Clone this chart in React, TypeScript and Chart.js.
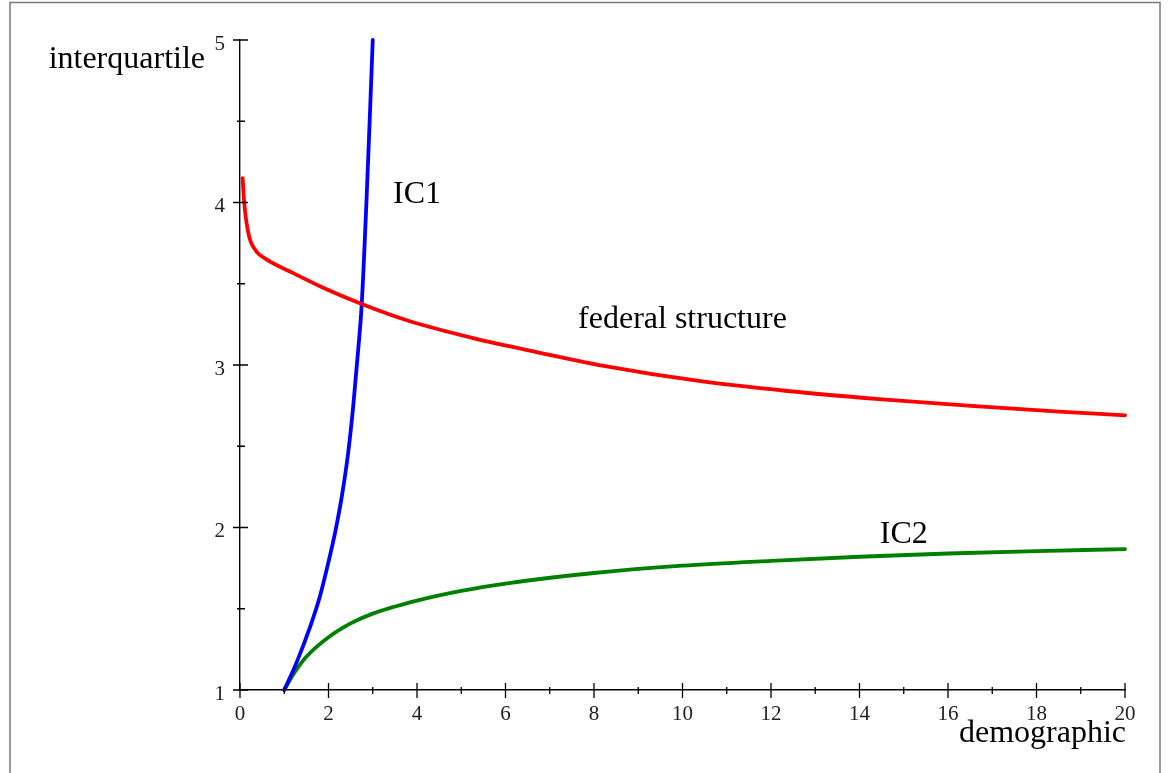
import React, { useEffect, useRef } from 'react';
import { Chart, registerables } from 'chart.js';

Chart.register(...registerables);

// Axis ranges and ticks
const xRange = [0, 20];
const yRange = [1, 5];
const xMajorTicks = [0, 2, 4, 6, 8, 10, 12, 14, 16, 18, 20];
const xMinorTicks = [1, 3, 5, 7, 9, 11, 13, 15, 17, 19];
const yMajorTicks = [1, 2, 3, 4, 5];
const yMinorTicks = [1.5, 2.5, 3.5, 4.5];

// Series: federal structure (red)
const fedX = [0.06, 0.09, 0.19, 0.34, 0.6, 1.13, 1.88, 2.75, 3.77, 5.27, 6.78, 8.22, 10.29, 12.37, 14.44, 16.52, 18.6, 20];
const fedY = [4.15, 4.015, 3.81, 3.71, 3.65, 3.575, 3.475, 3.375, 3.275, 3.165, 3.075, 2.995, 2.905, 2.84, 2.79, 2.748, 2.712, 2.69];

// Series: IC1 (blue)
const ic1X = [1.0, 1.28, 1.58, 1.81, 2.01, 2.15, 2.3, 2.44, 2.56, 2.66, 2.75, 2.86, 2.93, 3.0];
const ic1Y = [1.0, 1.17, 1.385, 1.58, 1.8, 1.97, 2.19, 2.45, 2.75, 3.06, 3.37, 4.02, 4.5, 5.0];

// Series: IC2 (green)
const ic2X = [1.0, 1.25, 1.5, 2.0, 2.5, 3.0, 4.0, 5.0, 6.0, 8.0, 10.0, 12.0, 14.0, 16.0, 18.0, 20.0];
const ic2Y = [1.0, 1.115, 1.205, 1.325, 1.41, 1.47, 1.55, 1.61, 1.655, 1.72, 1.765, 1.795, 1.82, 1.84, 1.855, 1.867];

// Curve annotations (text, data x, data y of baseline-left)
const curveLabels = [
  { text: 'IC1', x: 3.46, y: 4.0 },
  { text: 'federal structure', x: 7.64, y: 3.23 },
  { text: 'IC2', x: 14.46, y: 1.905 },
];

const xTitle = 'demographic';
const yTitle = 'interquartile';

const SERIF = "'Liberation Serif', 'Times New Roman', Times, serif";

const toPts = (xs: number[], ys: number[]) => xs.map((x, i) => ({ x, y: ys[i] }));

const decorPlugin = {
  id: 'decor',
  beforeDraw(chart: any) {
    const ctx = chart.ctx;
    ctx.save();
    ctx.fillStyle = '#ffffff';
    ctx.fillRect(0, 0, chart.width, chart.height);
    ctx.strokeStyle = '#7a7a7a';
    ctx.lineWidth = 1.5;
    ctx.strokeRect(10, 2.5, 1150, 800);
    ctx.restore();
  },
  afterDraw(chart: any) {
    const ctx = chart.ctx;
    const xs = chart.scales.x;
    const ys = chart.scales.y;
    const axisY = ys.getPixelForValue(yRange[0]);
    const axisX = xs.getPixelForValue(xRange[0]);
    ctx.save();
    ctx.strokeStyle = '#000';
    ctx.lineWidth = 1.3;
    ctx.beginPath();
    xMajorTicks.forEach((v) => {
      const px = xs.getPixelForValue(v);
      ctx.moveTo(px, axisY - 7);
      ctx.lineTo(px, axisY + 8);
    });
    xMinorTicks.forEach((v) => {
      const px = xs.getPixelForValue(v);
      ctx.moveTo(px, axisY - 3);
      ctx.lineTo(px, axisY + 4);
    });
    yMajorTicks.forEach((v) => {
      const py = ys.getPixelForValue(v);
      ctx.moveTo(axisX - 7, py);
      ctx.lineTo(axisX + 8, py);
    });
    yMinorTicks.forEach((v) => {
      const py = ys.getPixelForValue(v);
      ctx.moveTo(axisX - 3, py);
      ctx.lineTo(axisX + 5, py);
    });
    ctx.stroke();

    ctx.fillStyle = '#000';
    ctx.font = `32px ${SERIF}`;
    ctx.textBaseline = 'alphabetic';
    ctx.textAlign = 'left';
    curveLabels.forEach((l) => {
      ctx.fillText(l.text, xs.getPixelForValue(l.x), ys.getPixelForValue(l.y));
    });
    // axis titles
    ctx.textAlign = 'right';
    ctx.fillText(yTitle, axisX - 35, ys.getPixelForValue(yRange[1]) + 28);
    ctx.fillText(xTitle, xs.getPixelForValue(xRange[1]) + 1, axisY + 52);
    ctx.restore();
  },
};

export default function App() {
  const ref = useRef<HTMLCanvasElement | null>(null);
  useEffect(() => {
    if (!ref.current) return;
    const lineDs = (label: string, xs: number[], ys: number[], color: string) => ({
      label,
      data: toPts(xs, ys),
      borderColor: color,
      backgroundColor: color,
      borderWidth: 3.8,
      pointRadius: 0,
      showLine: true,
      cubicInterpolationMode: 'monotone' as const,
      borderCapStyle: 'round' as const,
      borderJoinStyle: 'round' as const,
      clip: false as any,
    });
    const chart = new Chart(ref.current, {
      type: 'scatter',
      data: {
        datasets: [
          lineDs('federal structure', fedX, fedY, '#ff0000'),
          lineDs('IC1', ic1X, ic1Y, '#0000ff'),
          lineDs('IC2', ic2X, ic2Y, '#008000'),
        ],
      },
      options: {
        animation: false,
        responsive: false,
        layout: { padding: { top: 40, right: 43, left: 0, bottom: 0 } },
        plugins: { legend: { display: false }, tooltip: { enabled: false }, title: { display: false } },
        scales: {
          x: {
            type: 'linear',
            min: xRange[0],
            max: xRange[1],
            grid: { display: false, drawTicks: false },
            border: { display: true, color: '#000', width: 1.4 },
            ticks: {
              stepSize: 2,
              padding: 12,
              color: '#222',
              font: { family: SERIF, size: 21 },
              maxRotation: 0,
              autoSkip: false,
            },
            afterFit: (s: any) => {
              s.height = 83;
            },
          },
          y: {
            type: 'linear',
            min: yRange[0],
            max: yRange[1],
            grid: { display: false, drawTicks: false },
            border: { display: true, color: '#000', width: 1.4 },
            ticks: {
              stepSize: 1,
              padding: 15,
              labelOffset: 4,
              color: '#222',
              font: { family: SERIF, size: 21 },
              autoSkip: false,
            },
            afterFit: (s: any) => {
              s.width = 240;
            },
          },
        },
      },
      plugins: [decorPlugin],
    });
    return () => chart.destroy();
  }, []);
  return (
    <div style={{ position: 'fixed', left: 0, top: 0, width: 1168, height: 773, background: '#fff' }}>
      <canvas ref={ref} width={1168} height={773} style={{ display: 'block' }} />
    </div>
  );
}
